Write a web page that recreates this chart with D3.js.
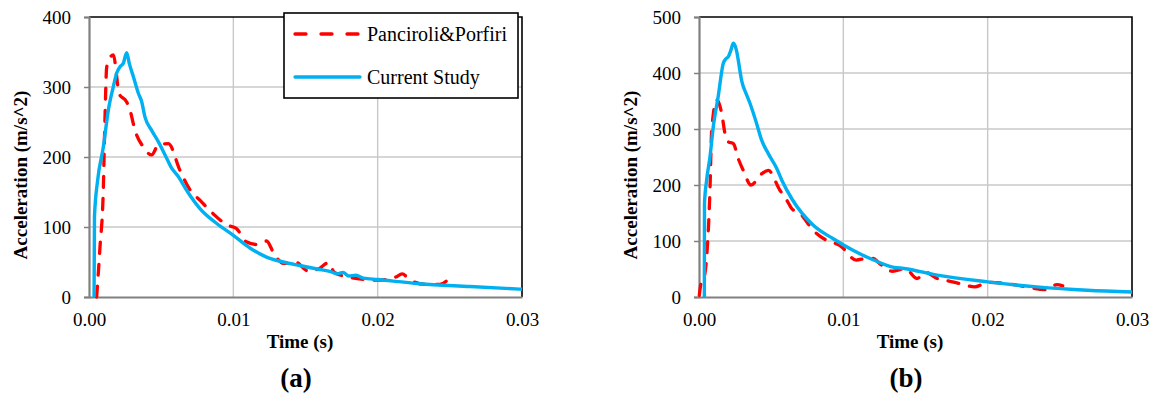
<!DOCTYPE html>
<html>
<head>
<meta charset="utf-8">
<script src="https://cdn.jsdelivr.net/npm/d3@7"></script>
</head>
<body style="margin:0;background:#fff">
<div id="chart"></div>
<script>
// series: [time (s), acceleration (m/s^2)]
const panciroliA = [[0.00053,0],[0.00076,71],[0.00099,153],[0.0011,250],[0.00123,329],[0.00168,346],[0.0021,290],[0.0026,279],[0.00284,267],[0.00319,238],[0.00374,215],[0.00434,203],[0.0048,217],[0.0055,219],[0.0063,181],[0.007,153],[0.0077,138],[0.0086,119],[0.00954,103],[0.0102,98],[0.0109,79],[0.0116,75],[0.0123,80],[0.01277,64],[0.01346,48],[0.0143,50],[0.0152,37],[0.0159,40],[0.0166,49],[0.017,35],[0.0181,28],[0.0191,25],[0.020,24],[0.0212,28],[0.0217,33],[0.0222,25],[0.0233,18],[0.0243,18],[0.0251,30]];
const currentA = [[0.00035,0],[0.00038,115],[0.0006,167],[0.00099,214],[0.00134,267],[0.00168,300],[0.00192,320],[0.00215,329],[0.00238,334],[0.00261,349],[0.0028,333],[0.00307,315],[0.00342,291],[0.00365,279],[0.00388,257],[0.00434,238],[0.0048,222],[0.00527,203],[0.00573,184],[0.00619,172],[0.0066,158],[0.007,145],[0.0077,126],[0.00885,105],[0.01,88],[0.01115,70],[0.0123,57],[0.01346,50],[0.0146,45],[0.0158,40],[0.0168,36],[0.0172,33],[0.0176,35],[0.018,30],[0.0185,31],[0.019,27],[0.020,25],[0.0229,19],[0.0264,15],[0.030,11]];
const panciroliB = [[0.00002,3],[0.00015,25],[0.0003,30],[0.00055,78],[0.00076,191],[0.00088,298],[0.00123,352],[0.00157,328],[0.0018,292],[0.00203,277],[0.00238,274],[0.00272,247],[0.00307,226],[0.0036,200],[0.00434,220],[0.0048,226],[0.0056,191],[0.00608,173],[0.00642,158],[0.007,149],[0.00792,119],[0.00885,101],[0.00977,92],[0.0109,66],[0.0116,69],[0.01206,69],[0.0125,60],[0.0134,46],[0.0143,51],[0.0151,33],[0.0157,44],[0.0165,33],[0.0174,28],[0.0182,23],[0.0191,18],[0.020,26],[0.0209,25],[0.0218,22],[0.0227,18],[0.024,13],[0.0248,22],[0.0252,20]];
const currentB = [[0.00037,0],[0.00038,167],[0.00053,209],[0.00076,250],[0.00099,304],[0.00133,358],[0.00168,417],[0.00185,425],[0.00203,429],[0.0022,440],[0.00238,453],[0.0026,440],[0.00272,423],[0.00295,387],[0.0033,361],[0.00353,346],[0.00399,310],[0.00434,280],[0.0048,256],[0.00538,230],[0.00573,209],[0.00644,175],[0.00792,128],[0.0093,104],[0.0107,83],[0.0121,66],[0.0135,53],[0.0142,51],[0.0165,39],[0.020,27],[0.0234,18],[0.0269,12],[0.030,9]];

const xTicks = [0, 0.01, 0.02, 0.03];
const yTicksA = [0, 100, 200, 300, 400];
const yTicksB = [0, 100, 200, 300, 400, 500];
const seriesNames = ["Panciroli&Porfiri", "Current Study"];
const panelLabels = ["(a)", "(b)"];

const red = "#ff0000", blue = "#00b0f0";
const font = '"Liberation Serif"';

const svg = d3.select("#chart").append("svg")
    .attr("width", 1156)
    .attr("height", 398)
    .style("display", "block");

function drawPanel(left, yTicks, red_data, blue_data, label, showLegend) {
    const right = left + 433, top = 17, bottom = 297;
    const x = d3.scaleLinear().domain([0, 0.03]).range([left, right]);
    const y = d3.scaleLinear().domain([0, d3.max(yTicks)]).range([bottom, top]);
    const g = svg.append("g");

    // grid
    g.append("g").selectAll("line").data(xTicks.slice(1, -1)).join("line")
        .attr("x1", d => x(d)).attr("x2", d => x(d))
        .attr("y1", top).attr("y2", bottom)
        .attr("stroke", "#c8c8c8").attr("stroke-width", 1.4);
    g.append("g").selectAll("line").data(yTicks.slice(1, -1)).join("line")
        .attr("y1", d => y(d)).attr("y2", d => y(d))
        .attr("x1", left).attr("x2", right)
        .attr("stroke", "#c8c8c8").attr("stroke-width", 1.4);

    // frame (top/right black)
    g.append("path")
        .attr("d", `M${left},${top}H${right}V${bottom}`)
        .attr("fill", "none").attr("stroke", "#000").attr("stroke-width", 1.6);

    // axes
    const yAxis = g.append("g")
        .attr("transform", `translate(${left},0)`)
        .call(d3.axisLeft(y).tickValues(yTicks).tickSize(5).tickPadding(13).tickFormat(d3.format("d")));
    const xAxis = g.append("g")
        .attr("transform", `translate(0,${bottom})`)
        .call(d3.axisBottom(x).tickValues(xTicks).tickSize(0).tickPadding(16).tickFormat(d3.format(".2f")));
    [xAxis, yAxis].forEach(a => {
        a.select(".domain").attr("stroke", "#808080").attr("stroke-width", 2.2);
        a.selectAll(".tick line").attr("stroke", "#808080").attr("stroke-width", 1.5);
        a.selectAll("text").attr("fill", "#000")
            .style("font-family", font).style("font-size", "19px");
    });
    yAxis.selectAll("text").attr("dy", "0.34em");

    // lines
    const line = d3.line().x(d => x(d[0])).y(d => y(d[1])).curve(d3.curveMonotoneX);
    g.append("path").datum(red_data)
        .attr("d", line).attr("fill", "none")
        .attr("stroke", red).attr("stroke-width", 3.3)
        .attr("stroke-dasharray", "11,11").attr("stroke-linecap", "round");
    g.append("path").datum(blue_data)
        .attr("d", line).attr("fill", "none")
        .attr("stroke", blue).attr("stroke-width", 3.4)
        .attr("stroke-linejoin", "round");

    // titles
    g.append("text")
        .attr("x", left + 211).attr("y", 348)
        .attr("text-anchor", "middle")
        .style("font-family", font).style("font-size", "19px").style("font-weight", "bold")
        .text("Time (s)");
    g.append("text")
        .attr("transform", `translate(${left - 62},175) rotate(-90)`)
        .attr("text-anchor", "middle")
        .style("font-family", font).style("font-size", "19px").style("font-weight", "bold")
        .text("Acceleration (m/s^2)");
    g.append("text")
        .attr("x", left + 207).attr("y", 387)
        .attr("text-anchor", "middle")
        .style("font-family", font).style("font-size", "27px").style("font-weight", "bold")
        .text(label);

    if (showLegend) {
        const lg = g.append("g").attr("transform", `translate(${left + 195},13)`);
        lg.append("rect")
            .attr("width", 234).attr("height", 85)
            .attr("fill", "#fff").attr("stroke", "#000").attr("stroke-width", 1.6);
        lg.selectAll("g.item").data(seriesNames).join("g")
            .attr("class", "item")
            .attr("transform", (d, i) => `translate(0,${21 + i * 43})`)
            .each(function (d, i) {
                const it = d3.select(this);
                it.append("line")
                    .attr("x1", 11).attr("x2", 76)
                    .attr("stroke", i === 0 ? red : blue)
                    .attr("stroke-width", 3.3)
                    .attr("stroke-linecap", "round")
                    .attr("stroke-dasharray", i === 0 ? "11,15" : null);
                it.append("text")
                    .attr("x", 83).attr("y", 7)
                    .style("font-family", font).style("font-size", "20px")
                    .text(d);
            });
    }
}

drawPanel(89, yTicksA, panciroliA, currentA, panelLabels[0], true);
drawPanel(699, yTicksB, panciroliB, currentB, panelLabels[1], false);
</script>
</body>
</html>
